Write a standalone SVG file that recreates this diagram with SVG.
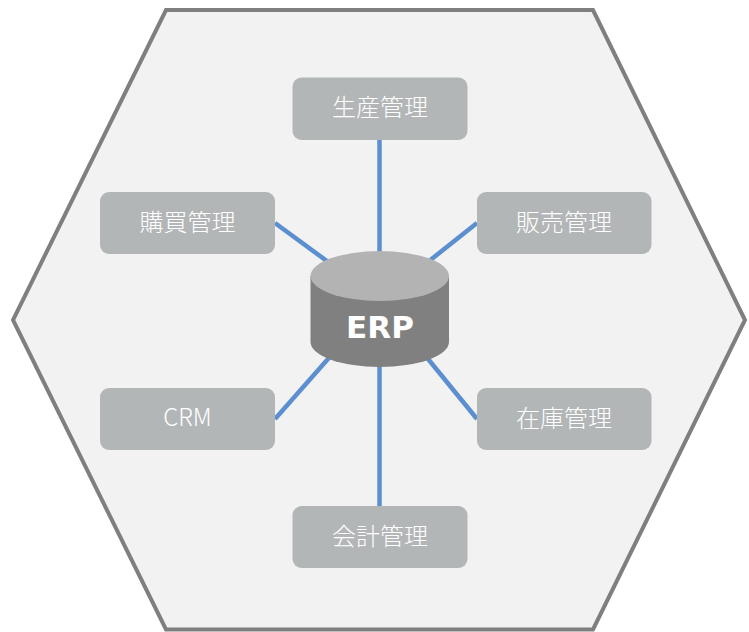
<svg xmlns="http://www.w3.org/2000/svg" width="749" height="632" viewBox="0 0 749 632">
<style>
.box{fill:#b3b6b7}
.lbl{fill:#ffffff;font-family:"Noto Sans CJK JP","Noto Sans",sans-serif;font-size:24px;font-weight:300;text-anchor:middle}
.conn{stroke:#5b8fcf;stroke-width:4.5;fill:none}
</style>
<rect width="749" height="632" fill="#ffffff"/>
<polygon id="frame" points="166,10 593,10 745,320 593,629.5 166,629.5 13,320" fill="#f2f2f2" stroke="#7f7f7f" stroke-width="4" stroke-linejoin="miter"/>
<g id="connectors">
<line class="conn" x1="379.5" y1="140" x2="379.5" y2="300"/>
<line class="conn" x1="379.5" y1="506" x2="379.5" y2="300"/>
<line class="conn" x1="275" y1="223" x2="380" y2="300"/>
<line class="conn" x1="477" y1="223" x2="380" y2="300"/>
<line class="conn" x1="275" y1="419" x2="380" y2="300"/>
<line class="conn" x1="477" y1="419" x2="380" y2="300"/>
</g>
<g id="erp">
<path d="M310.5,276 L310.5,342 A69.25,25 0 0 0 449,342 L449,276 Z" fill="#808080"/>
<ellipse cx="379.75" cy="276" rx="69.25" ry="25" fill="#b3b3b3"/>
<text x="380" y="338" fill="#ffffff" font-family="DejaVu Sans,sans-serif" font-weight="bold" font-size="31" text-anchor="middle">ERP</text>
</g>
<g id="seisan"><rect class="box" x="292.5" y="77.5" width="175" height="62.5" rx="9"/><text class="lbl" x="380" y="116">生産管理</text></g>
<g id="kobai"><rect class="box" x="100" y="192" width="175" height="62" rx="9"/><text class="lbl" x="187.5" y="231">購買管理</text></g>
<g id="hanbai"><rect class="box" x="477" y="192" width="174.5" height="62" rx="9"/><text class="lbl" x="564" y="231">販売管理</text></g>
<g id="crm"><rect class="box" x="100" y="388" width="175" height="62" rx="9"/><text class="lbl" x="187.5" y="426" font-size="25">CRM</text></g>
<g id="zaiko"><rect class="box" x="477" y="388" width="174.5" height="62" rx="9"/><text class="lbl" x="564" y="427">在庫管理</text></g>
<g id="kaikei"><rect class="box" x="292.5" y="506" width="175" height="62" rx="9"/><text class="lbl" x="380" y="545">会計管理</text></g>
</svg>
